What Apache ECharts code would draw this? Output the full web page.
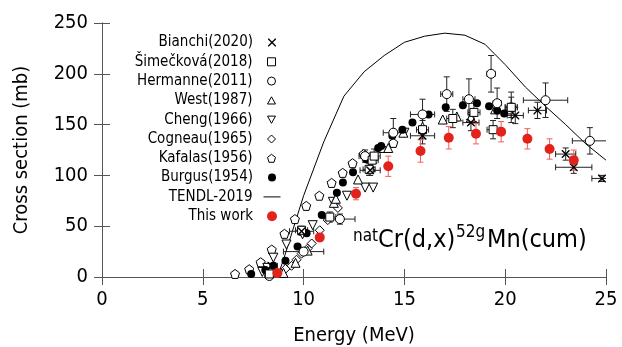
<!DOCTYPE html>
<html>
<head>
<meta charset="utf-8">
<script src="https://cdn.jsdelivr.net/npm/echarts@6/dist/echarts.min.js"></script>
<style>
  html, body { margin: 0; padding: 0; background: #fff; }
  #chart { width: 622px; height: 347px; }
</style>
</head>
<body>
<div id="chart"></div>
<script>
// [energy MeV, cross section mb, x error, y error]
const bianchi = [
  [8.4, 11, 0.3, 2], [9.9, 45, 0.6, 4], [13.3, 105, 0.5, 5], [15.9, 139, 0.6, 8],
  [18.3, 152, 0.4, 8], [20.5, 159, 0.4, 8], [21.6, 164, 0.45, 8], [23.0, 121, 0.5, 6],
  [23.4, 108, 0.9, 6], [24.8, 97, 0.5, 3]
];
const simeckova = [
  [8.3, 3, 0.2, 1], [9.9, 46, 0.3, 4], [11.3, 59, 0.3, 5], [13.25, 106, 0.3, 6],
  [13.4, 115, 0.3, 7], [13.5, 119, 0.3, 7], [15.9, 145, 0.3, 9], [17.4, 156, 0.3, 9],
  [18.45, 162, 0.3, 9], [19.4, 145, 0.3, 9], [20.3, 167, 0.3, 10]
];
const hermanne = [
  [8.3, 1, 0.2, 1], [10.0, 25, 1.0, 3], [11.8, 57, 0.75, 5], [13.05, 119, 0.3, 6],
  [14.45, 142, 0.5, 14], [15.9, 160, 0.6, 15], [17.1, 180, 0.3, 17], [18.2, 175, 0.3, 20],
  [19.3, 200, 0.2, 18], [19.6, 171, 0.2, 15], [20.3, 167, 0.3, 15], [22.0, 174, 1.1, 17],
  [24.2, 134, 0.87, 13]
];
const west = [
  [9.0, 4], [9.6, 14], [10.2, 26], [11.5, 73], [11.6, 77], [12.7, 96], [13.3, 108],
  [14.2, 127], [14.95, 142], [15.9, 148], [16.9, 155], [17.6, 158], [18.3, 157],
  [19.5, 165], [20.2, 165]
];
const cheng = [
  [7.95, 5], [8.2, 9], [8.5, 19], [9.15, 32], [9.95, 42], [10.45, 51], [11.45, 74],
  [12.15, 80], [13.05, 88], [13.45, 88], [15.0, 142]
];
const cogneau = [
  [8.9, 4], [9.1, 8], [9.4, 11], [9.65, 17], [9.9, 23], [10.2, 28], [10.4, 33],
  [10.8, 46], [11.2, 56], [11.7, 68]
];
const kafalas = [
  [6.6, 3], [7.3, 7.6], [7.87, 14.5], [8.42, 27], [9.05, 42.5], [9.57, 57], [10.13, 70],
  [10.78, 80], [11.39, 92.6], [11.94, 102.5], [12.43, 112], [12.98, 121], [13.87, 127],
  [14.45, 132]
];
const burgus = [
  [7.4, 3], [8.1, 7], [8.5, 11], [9.1, 16], [9.7, 30], [10.15, 43], [10.9, 61],
  [11.65, 83], [11.95, 93], [12.45, 103], [13.1, 116], [13.7, 127], [13.85, 129],
  [14.4, 139], [14.9, 145], [15.4, 152], [16.2, 160], [17.05, 167], [17.9, 169],
  [18.6, 171], [19.2, 168], [19.6, 164], [19.95, 161]
];
const tendl = [
  [8.7, 0], [9, 17], [10, 80], [11, 133], [12, 178], [13, 202], [14, 218], [15, 231],
  [16, 237], [17, 240], [18, 238], [19, 229], [20, 209], [21, 187], [22, 168],
  [23, 150], [24, 131], [25, 115]
];
const thisWork = [
  [8.7, 4, 0, 2], [10.8, 39, 0, 4], [12.6, 82, 0, 6], [14.2, 109, 0, 10],
  [15.8, 124, 0, 11], [17.2, 137, 0, 11], [18.55, 141, 0, 10], [19.8, 143, 0, 10],
  [21.1, 136, 0, 10], [22.2, 126, 0, 10], [23.4, 115, 0, 10]
];
const xTicks = [0, 25, 5];
const yTicks = [0, 250, 50];

const FONT = '"DejaVu Sans Condensed", "DejaVu Sans", sans-serif';
const RED = "#e3231b";
const CROSS = "path://M0,0L1.2,0L5,3.8L8.8,0L10,0L10,1.2L6.2,5L10,8.8L10,10L8.8,10L5,6.2L1.2,10L0,10L0,8.8L3.8,5L0,1.2Z";
const PENTA = "path://M50,0L100,38L81,100L19,100L0,38Z";
const DOWN = "path://M0,0L10,0L5,9Z";
const UP = "path://M5,0L10,9L0,9Z";

const chart = echarts.init(document.getElementById("chart"));

// error bars with small caps, drawn through the axes
function errorBars(color) {
  return function (params, api) {
    const x = api.value(0), y = api.value(1), dx = api.value(2), dy = api.value(3);
    const c = api.coord([x, y]);
    const cap = 3;
    const st = { stroke: color, lineWidth: 1 };
    const kids = [];
    if (dy > 0) {
      const lo = api.coord([x, y - dy]), hi = api.coord([x, y + dy]);
      kids.push({ type: "line", shape: { x1: c[0], y1: lo[1], x2: c[0], y2: hi[1] }, style: st });
      kids.push({ type: "line", shape: { x1: c[0] - cap, y1: lo[1], x2: c[0] + cap, y2: lo[1] }, style: st });
      kids.push({ type: "line", shape: { x1: c[0] - cap, y1: hi[1], x2: c[0] + cap, y2: hi[1] }, style: st });
    }
    if (dx > 0) {
      const l = api.coord([x - dx, y]), r = api.coord([x + dx, y]);
      kids.push({ type: "line", shape: { x1: l[0], y1: c[1], x2: r[0], y2: c[1] }, style: st });
      kids.push({ type: "line", shape: { x1: l[0], y1: c[1] - cap, x2: l[0], y2: c[1] + cap }, style: st });
      kids.push({ type: "line", shape: { x1: r[0], y1: c[1] - cap, x2: r[0], y2: c[1] + cap }, style: st });
    }
    return { type: "group", children: kids };
  };
}

function errSeries(data, color) {
  return {
    type: "custom",
    data: data,
    renderItem: errorBars(color),
    encode: { x: 0, y: 1 },
    clip: true,
    silent: true,
    z: 2,
  };
}

const openStyle = { color: "#fff", borderColor: "#000", borderWidth: 1, opacity: 1 };
const fillStyle = (c) => ({ color: c, opacity: 1 });

const series = [
  errSeries(bianchi, "#222"),
  errSeries(simeckova, "#222"),
  errSeries(hermanne, "#222"),
  errSeries(thisWork, "#f0605a"),
  { name: "TENDL-2019", type: "line", data: tendl, symbol: "none", lineStyle: { color: "#000", width: 1 }, itemStyle: { color: "#000" }, z: 1 },
  { name: "Kafalas(1956)", type: "scatter", data: kafalas, symbol: PENTA, symbolSize: 9, itemStyle: openStyle, z: 3 },
  { name: "Cogneau(1965)", type: "scatter", data: cogneau, symbol: "diamond", symbolSize: 9, itemStyle: openStyle, z: 3 },
  { name: "Cheng(1966)", type: "scatter", data: cheng, symbol: DOWN, symbolSize: 9, itemStyle: openStyle, z: 3 },
  { name: "West(1987)", type: "scatter", data: west, symbol: UP, symbolSize: 9, itemStyle: openStyle, z: 3 },
  { name: "Burgus(1954)", type: "scatter", data: burgus, symbol: "circle", symbolSize: 8, itemStyle: fillStyle("#000"), z: 4 },
  { name: "Hermanne(2011)", type: "scatter", data: hermanne, symbol: "circle", symbolSize: 9, itemStyle: openStyle, z: 4 },
  { name: "Šimečková(2018)", type: "scatter", data: simeckova, symbol: "rect", symbolSize: 8, itemStyle: openStyle, z: 4 },
  { name: "Bianchi(2020)", type: "scatter", data: bianchi, symbol: CROSS, symbolSize: 8, itemStyle: fillStyle("#000"), z: 5 },
  { name: "This work", type: "scatter", data: thisWork, symbol: "circle", symbolSize: 10, itemStyle: fillStyle(RED), z: 6 },
];

// one legend per row so the icons line up in a column at x = 272
const legendRows = [
  "Bianchi(2020)", "Šimečková(2018)", "Hermanne(2011)", "West(1987)", "Cheng(1966)",
  "Cogneau(1965)", "Kafalas(1956)", "Burgus(1954)", "TENDL-2019", "This work"
];
const legend = legendRows.map((name, i) => {
  const cy = 44 + i * 19.3;
  const isLine = name === "TENDL-2019";
  const h = isLine ? 1 : name === "This work" ? 10 : 8;
  const w = isLine ? 17 : h;
  const iconRight = 272 + w / 2;
  const gap = Math.max(0, Math.round(iconRight - w - 5 - 253));
  return {
    data: isLine ? [{ name: name, icon: "rect" }] : [name],
    orient: "vertical",
    align: "right",
    right: 622 - iconRight,
    top: cy - 9,
    padding: 0,
    itemWidth: w,
    itemHeight: h,
    selectedMode: false,
    itemStyle: { borderWidth: 1 },
    formatter: "{t|{name}}",
    textStyle: {
      fontFamily: FONT, fontSize: 15, color: "#000",
      rich: { t: { fontFamily: FONT, fontSize: 15, color: "#000", padding: [0, gap, 0, 0] } },
    },
  };
});

const axisLine = { lineStyle: { color: "#555", width: 1 } };
const tick = { inside: true, length: 8, lineStyle: { color: "#555" } };

const option = {
  animation: false,
  backgroundColor: "#fff",
  grid: { left: 102, right: 16, top: 23, bottom: 70, outerBoundsMode: "none" },
  legend: legend,
  xAxis: [
    {
      type: "value", min: xTicks[0], max: xTicks[1], interval: xTicks[2],
      name: "Energy (MeV)", nameLocation: "middle", nameGap: 49,
      nameTextStyle: { fontFamily: FONT, fontSize: 20, color: "#000" },
      axisLine: axisLine, axisTick: tick, splitLine: { show: false },
      axisLabel: { fontFamily: FONT, fontSize: 20, color: "#000", margin: 13 },
    },
    {
      type: "value", position: "top", min: xTicks[0], max: xTicks[1], interval: xTicks[2],
      axisLine: axisLine, axisTick: tick, splitLine: { show: false }, axisLabel: { show: false },
    },
  ],
  yAxis: [
    {
      type: "value", min: yTicks[0], max: yTicks[1], interval: yTicks[2],
      name: "Cross section (mb)", nameLocation: "middle", nameGap: 70,
      nameTextStyle: { fontFamily: FONT, fontSize: 20, color: "#000" },
      axisLine: axisLine, axisTick: tick, splitLine: { show: false },
      axisLabel: { fontFamily: FONT, fontSize: 20, color: "#000", margin: 14 },
    },
    {
      type: "value", position: "right", min: yTicks[0], max: yTicks[1], interval: yTicks[2],
      axisLine: axisLine, axisTick: tick, splitLine: { show: false }, axisLabel: { show: false },
    },
  ],
  graphic: [
    { type: "text", left: 353, top: 228, style: { text: "nat", font: "17px " + FONT, fill: "#000" } },
    { type: "text", left: 378, top: 228, style: { text: "Cr(d,x)", font: "25px " + FONT, fill: "#000" } },
    { type: "text", left: 456, top: 224, style: { text: "52g", font: "17px " + FONT, fill: "#000" } },
    { type: "text", left: 487, top: 228, style: { text: "Mn(cum)", font: "25px " + FONT, fill: "#000" } },
  ],
  series: series,
};

chart.setOption(option);
</script>
</body>
</html>
